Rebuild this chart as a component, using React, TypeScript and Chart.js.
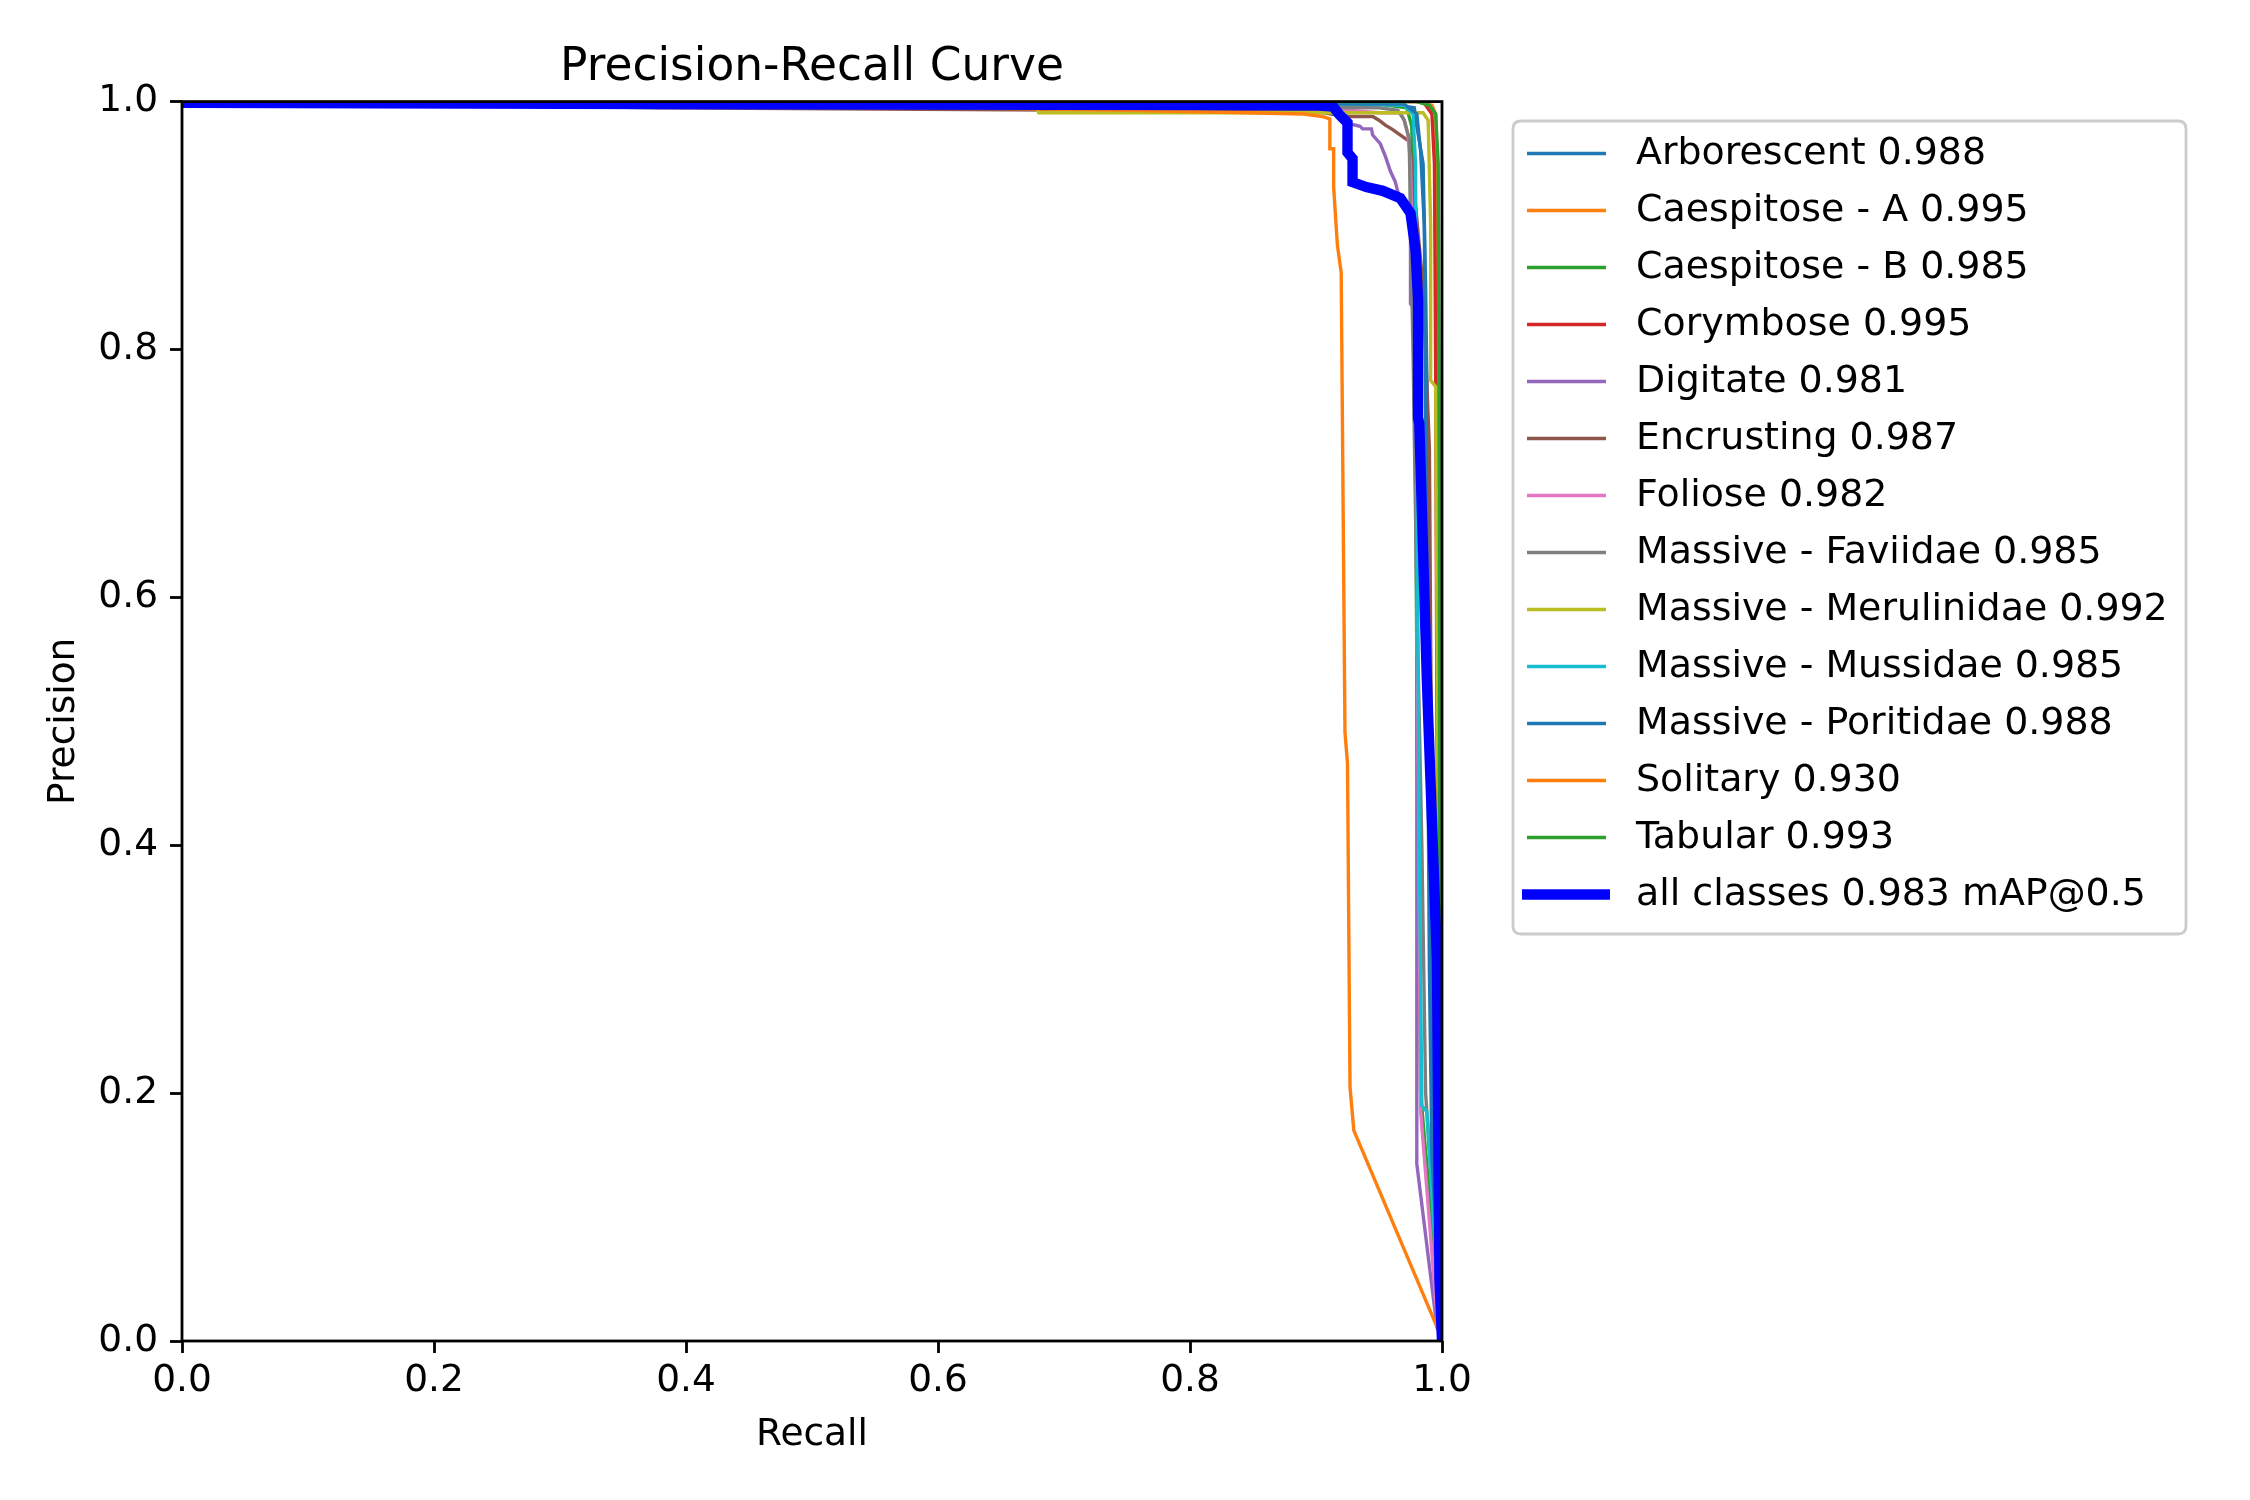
import React, { useEffect, useRef } from "react";
import { Chart, registerables } from "chart.js";

Chart.register(...registerables);

// ---- data ----
const classNames = [
  "Arborescent",
  "Caespitose - A",
  "Caespitose - B",
  "Corymbose",
  "Digitate",
  "Encrusting",
  "Foliose",
  "Massive - Faviidae",
  "Massive - Merulinidae",
  "Massive - Mussidae",
  "Massive - Poritidae",
  "Solitary",
  "Tabular",
];
const classAP = [0.988, 0.995, 0.985, 0.995, 0.981, 0.987, 0.982, 0.985, 0.992, 0.985, 0.988, 0.93, 0.993];
const allClassesMAP = 0.983;

const arborescentRecall = [0, 0.96, 0.978, 0.98, 0.985, 0.987, 0.989, 0.99, 0.991, 0.993, 1.0];
const arborescentPrecision = [1, 0.998, 0.995, 0.98, 0.95, 0.85, 0.7, 0.5, 0.3, 0.1, 0];

const caespitoseARecall = [0, 0.98, 0.992, 0.995, 0.996, 0.997, 0.998, 0.999, 1.0];
const caespitoseAPrecision = [1, 1, 0.997, 0.99, 0.9, 0.6, 0.3, 0.1, 0];

const caespitoseBRecall = [0, 0.95, 0.972, 0.976, 0.978, 0.979, 0.981, 0.983, 1.0];
const caespitoseBPrecision = [1, 0.998, 0.995, 0.98, 0.9, 0.7, 0.4, 0.2, 0];

const corymboseRecall = [0, 0.985, 0.992, 0.994, 0.995, 0.996, 0.997, 0.999, 1.0];
const corymbosePrecision = [1, 1, 0.99, 0.95, 0.78, 0.5, 0.3, 0.1, 0];

const digitateRecall = [0, 0.9, 0.92, 0.927, 0.935, 0.937, 0.944, 0.945, 0.951, 0.955, 0.959, 0.963, 0.965, 0.968, 0.975, 0.975, 0.98, 0.98, 0.996, 1.0];
const digitatePrecision = [1, 0.993, 0.988, 0.982, 0.98, 0.978, 0.978, 0.973, 0.966, 0.956, 0.944, 0.935, 0.927, 0.919, 0.915, 0.837, 0.83, 0.143, 0.011, 0];

const encrustingRecall = [0, 0.38, 0.9, 0.927, 0.945, 0.95, 0.955, 0.96, 0.967, 0.974, 0.976, 0.985, 0.99, 0.991, 0.993, 0.997, 1.0];
const encrustingPrecision = [1, 0.995, 0.992, 0.988, 0.988, 0.985, 0.981, 0.978, 0.973, 0.968, 0.95, 0.85, 0.72, 0.563, 0.3, 0.1, 0];

const folioseRecall = [0, 0.9, 0.95, 0.967, 0.97, 0.973, 0.975, 0.978, 0.981, 0.983, 0.996, 1.0];
const foliosePrecision = [1, 0.995, 0.991, 0.991, 0.985, 0.973, 0.95, 0.8, 0.5, 0.186, 0.02, 0];

const faviidaeRecall = [0, 0.95, 0.965, 0.97, 0.974, 0.975, 0.977, 0.98, 0.984, 0.987, 1.0];
const faviidaePrecision = [1, 0.995, 0.993, 0.985, 0.97, 0.9, 0.8, 0.6, 0.4, 0.2, 0];

const merulinidaeRecall = [0, 0.3, 0.678, 0.68, 0.985, 0.989, 0.991, 0.991, 0.995, 0.997, 1.0];
const merulinidaePrecision = [1, 0.997, 0.995, 0.991, 0.991, 0.985, 0.9, 0.775, 0.77, 0.398, 0];

const mussidaeRecall = [0, 0.93, 0.97, 0.977, 0.979, 0.98, 0.982, 0.984, 0.988, 0.998, 1.0];
const mussidaePrecision = [1, 0.998, 0.997, 0.99, 0.95, 0.7, 0.4, 0.19, 0.185, 0.02, 0];

const poritidaeRecall = [0, 0.97, 0.98, 0.983, 0.986, 0.988, 0.99, 0.992, 1.0];
const poritidaePrecision = [1, 0.998, 0.99, 0.96, 0.9, 0.6, 0.3, 0.15, 0];

const solitaryRecall = [0, 0.5, 0.75, 0.89, 0.905, 0.911, 0.911, 0.914, 0.914, 0.917, 0.92, 0.923, 0.925, 0.927, 0.93, 0.997];
const solitaryPrecision = [1, 0.997, 0.993, 0.99, 0.988, 0.986, 0.962, 0.962, 0.931, 0.884, 0.862, 0.491, 0.466, 0.205, 0.17, 0.009];

const tabularRecall = [0, 0.98, 0.99, 0.995, 0.997, 0.998, 0.998, 0.999, 1.0];
const tabularPrecision = [1, 1, 0.997, 0.99, 0.95, 0.7, 0.4, 0.2, 0];

const allRecall = [0, 0.38, 0.9, 0.9135, 0.919, 0.925, 0.925, 0.929, 0.929, 0.94, 0.953, 0.967, 0.975, 0.979, 0.981, 0.981, 0.981, 0.982, 0.988, 0.996, 0.998, 1.0];
const allPrecision = [0.999, 0.998, 0.997, 0.996, 0.989, 0.983, 0.959, 0.954, 0.935, 0.931, 0.928, 0.922, 0.91, 0.88, 0.84, 0.759, 0.745, 0.74, 0.533, 0.307, 0.05, 0];

const classRecalls = [
  arborescentRecall, caespitoseARecall, caespitoseBRecall, corymboseRecall, digitateRecall,
  encrustingRecall, folioseRecall, faviidaeRecall, merulinidaeRecall, mussidaeRecall,
  poritidaeRecall, solitaryRecall, tabularRecall,
];
const classPrecisions = [
  arborescentPrecision, caespitoseAPrecision, caespitoseBPrecision, corymbosePrecision, digitatePrecision,
  encrustingPrecision, foliosePrecision, faviidaePrecision, merulinidaePrecision, mussidaePrecision,
  poritidaePrecision, solitaryPrecision, tabularPrecision,
];

const axisTicks = [0, 0.2, 0.4, 0.6, 0.8, 1.0];

const tab10 = ["#1f77b4", "#ff7f0e", "#2ca02c", "#d62728", "#9467bd", "#8c564b", "#e377c2", "#7f7f7f", "#bcbd22", "#17becf"];

const FONT = "'DejaVu Sans', 'Liberation Sans', sans-serif";

const frameAndLegend = {
  id: "frameAndLegend",
  afterDatasetsDraw(chart: any) {
    const { ctx, chartArea: a } = chart;
    ctx.save();
    ctx.strokeStyle = "#000";
    ctx.lineWidth = 2.8;
    ctx.strokeRect(a.left, a.top, a.right - a.left, a.bottom - a.top);
    ctx.restore();
  },
  afterDraw(chart: any) {
    const { ctx } = chart;
    const ds = chart.data.datasets;
    const boxL = 1513, boxT = 121, boxR = 2186, boxB = 934, r = 8;
    ctx.save();
    ctx.beginPath();
    ctx.moveTo(boxL + r, boxT);
    ctx.lineTo(boxR - r, boxT);
    ctx.quadraticCurveTo(boxR, boxT, boxR, boxT + r);
    ctx.lineTo(boxR, boxB - r);
    ctx.quadraticCurveTo(boxR, boxB, boxR - r, boxB);
    ctx.lineTo(boxL + r, boxB);
    ctx.quadraticCurveTo(boxL, boxB, boxL, boxB - r);
    ctx.lineTo(boxL, boxT + r);
    ctx.quadraticCurveTo(boxL, boxT, boxL + r, boxT);
    ctx.closePath();
    ctx.fillStyle = "rgba(255,255,255,0.8)";
    ctx.fill();
    ctx.strokeStyle = "#cccccc";
    ctx.lineWidth = 2.8;
    ctx.stroke();

    const y0 = 153.5, step = 57.0;
    ctx.font = `37.9px ${FONT}`;
    ctx.textBaseline = "middle";
    ctx.textAlign = "left";
    ds.forEach((d: any, i: number) => {
      const y = y0 + i * step;
      ctx.beginPath();
      ctx.strokeStyle = d.borderColor;
      ctx.lineWidth = d.borderWidth;
      ctx.lineCap = "butt";
      ctx.moveTo(d.borderWidth > 5 ? 1522 : 1527, y);
      ctx.lineTo(d.borderWidth > 5 ? 1610 : 1606, y);
      ctx.stroke();
      ctx.fillStyle = "#000";
      ctx.fillText(d.label, 1636, y + 1);
    });
    ctx.restore();
  },
};

export default function App() {
  const ref = useRef<HTMLCanvasElement>(null);
  useEffect(() => {
    document.body.style.margin = "0";
    const n = classNames.length;
    const datasets: any[] = classNames.map((name, i) => ({
      label: `${name} ${classAP[i].toFixed(3)}`,
      data: classRecalls[i].map((x, j) => ({ x, y: classPrecisions[i][j] })),
      borderColor: tab10[i % 10],
      borderWidth: 3.4,
      pointRadius: 0,
      tension: 0,
      fill: false,
      clip: 0,
      order: n - i,
    }));
    datasets.push({
      label: `all classes ${allClassesMAP.toFixed(3)} mAP@0.5`,
      data: allRecall.map((x, j) => ({ x, y: allPrecision[j] })),
      borderColor: "#0000ff",
      borderWidth: 10.4,
      pointRadius: 0,
      tension: 0,
      fill: false,
      clip: 0,
      order: 0,
    });

    const tickFont = { family: FONT, size: 37.5 };
    const chart = new Chart(ref.current!, {
      type: "line",
      data: { datasets },
      plugins: [frameAndLegend],
      options: {
        responsive: false,
        animation: false,
        devicePixelRatio: 1,
        parsing: true,
        layout: { padding: { left: 0, right: 808, top: 0, bottom: 0 } },
        plugins: {
          legend: { display: false },
          tooltip: { enabled: false },
          title: {
            display: true,
            text: "Precision-Recall Curve",
            fullSize: false,
            color: "#000",
            font: { family: FONT, size: 45.5, weight: "normal" },
            padding: { top: 41, bottom: 6 },
          },
        },
        scales: {
          x: {
            type: "linear",
            position: "bottom",
            min: 0,
            max: 1,
            afterFit: (s: any) => { s.height = 159; },
            afterBuildTicks: (s: any) => { s.ticks = axisTicks.map((v) => ({ value: v })); },
            ticks: {
              autoSkip: false,
              maxRotation: 0,
              padding: 6,
              color: "#000",
              font: tickFont,
              callback: (v: any) => Number(v).toFixed(1),
            },
            grid: { drawOnChartArea: false, drawTicks: true, tickLength: 12, tickWidth: 2.8, tickColor: "#000", color: "#000" },
            border: { display: false },
            title: { display: true, text: "Recall", color: "#000", font: tickFont, padding: { top: 0, bottom: 42 } },
          },
          y: {
            type: "linear",
            position: "left",
            min: 0,
            max: 1,
            afterFit: (s: any) => { s.width = 182; },
            afterBuildTicks: (s: any) => { s.ticks = axisTicks.map((v) => ({ value: v })); },
            ticks: {
              autoSkip: false,
              padding: 12,
              color: "#000",
              font: tickFont,
              callback: (v: any) => Number(v).toFixed(1),
            },
            grid: { drawOnChartArea: false, drawTicks: true, tickLength: 12, tickWidth: 2.8, tickColor: "#000", color: "#000" },
            border: { display: false },
            title: { display: true, text: "Precision", color: "#000", font: tickFont, padding: { top: 42, bottom: 0 } },
          },
        },
      } as any,
    });
    return () => chart.destroy();
  }, []);
  return (
    <canvas
      ref={ref}
      width={2250}
      height={1500}
      style={{ position: "absolute", left: 0, top: 0, width: 2250, height: 1500, display: "block" }}
    />
  );
}
